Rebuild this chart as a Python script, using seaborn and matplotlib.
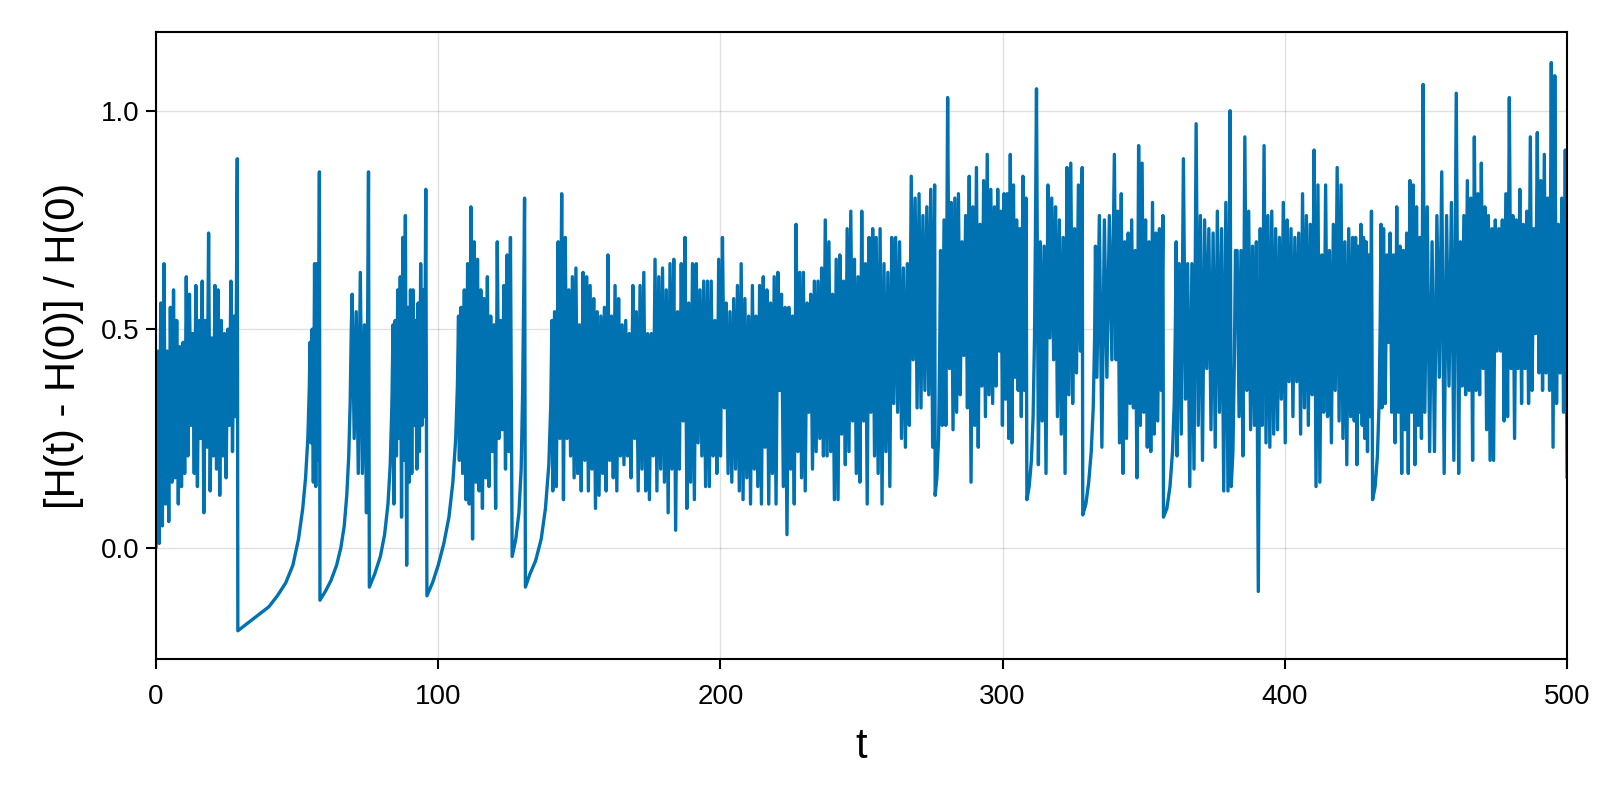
import numpy as np
import pandas as pd
import seaborn as sns
import matplotlib.pyplot as plt

# noisy stretches: alternating crests / troughs,
# each spread evenly over its own (t_start, t_end)
burst_1 = [0.00, 0.45, 0.01, 0.56, 0.05, 0.65, 0.10, 0.45, 0.06, 0.55, 0.15, 0.59, 0.16, 0.52,
           0.10, 0.46, 0.14, 0.47, 0.17, 0.62, 0.21, 0.58, 0.28, 0.49, 0.17, 0.60, 0.14, 0.52,
           0.25, 0.61, 0.08, 0.52, 0.23, 0.72, 0.13, 0.48, 0.21, 0.60, 0.18, 0.59, 0.12, 0.52,
           0.21, 0.49, 0.16, 0.50, 0.28, 0.61, 0.22, 0.53, 0.30, 0.89]
burst_2 = [0.24, 0.50, 0.15, 0.65, 0.14, 0.65, 0.20, 0.86]
burst_3 = [0.58, 0.25, 0.54, 0.17, 0.63, 0.17, 0.51, 0.08, 0.86]
burst_4 = [0.10, 0.52, 0.21, 0.59, 0.25, 0.62, 0.07, 0.71, 0.20, 0.76, -0.04, 0.55, 0.15, 0.59,
           0.17, 0.59, 0.28, 0.52, 0.18, 0.56, 0.22, 0.65, 0.28, 0.59, 0.30, 0.82]
burst_5 = [0.20, 0.55, 0.17, 0.59, 0.11, 0.65, 0.10, 0.78, 0.02, 0.70, 0.15, 0.66, 0.13, 0.59,
           0.09, 0.57, 0.16, 0.62, 0.14, 0.53, 0.22, 0.51, 0.09, 0.70, 0.25, 0.52, 0.27, 0.60,
           0.18, 0.67, 0.22, 0.71]
burst_a = [0.13, 0.54, 0.14, 0.70, 0.25, 0.81, 0.11, 0.71, 0.25, 0.59, 0.21, 0.62, 0.16, 0.64,
           0.17, 0.51, 0.13, 0.63, 0.20, 0.62, 0.13, 0.60, 0.18, 0.57, 0.09, 0.54, 0.12, 0.53,
           0.17, 0.55, 0.13, 0.67, 0.20, 0.53, 0.16, 0.60, 0.13, 0.57, 0.21, 0.51, 0.19, 0.52,
           0.21, 0.49, 0.16, 0.60, 0.25]
burst_b = [0.54, 0.13, 0.60, 0.18, 0.63, 0.13, 0.49, 0.11, 0.49, 0.21, 0.66, 0.13, 0.62, 0.18,
           0.64, 0.15, 0.59, 0.08, 0.65, 0.18, 0.66, 0.04, 0.54, 0.18, 0.65, 0.29, 0.71, 0.09,
           0.56, 0.15, 0.65, 0.11, 0.65, 0.24, 0.59, 0.21, 0.61, 0.14, 0.61, 0.14, 0.61, 0.21,
           0.52, 0.17, 0.66, 0.21, 0.71, 0.32, 0.56, 0.17, 0.54, 0.15, 0.57, 0.18, 0.60, 0.13,
           0.65, 0.11, 0.57, 0.16, 0.53, 0.10, 0.60, 0.18]
burst_c = [0.53, 0.14, 0.60, 0.10, 0.62, 0.23, 0.59, 0.10, 0.56, 0.17, 0.62, 0.10, 0.63, 0.36,
           0.58, 0.14, 0.55, 0.03, 0.55, 0.18, 0.53, 0.10, 0.74, 0.22, 0.63, 0.16, 0.63, 0.13,
           0.56, 0.31, 0.58, 0.18, 0.61, 0.22, 0.61, 0.25, 0.64, 0.21, 0.75, 0.21, 0.70, 0.22,
           0.58, 0.11, 0.66, 0.11, 0.67, 0.26, 0.61, 0.19, 0.73, 0.22, 0.77, 0.29, 0.66, 0.17,
           0.62, 0.15, 0.77, 0.29, 0.65, 0.10, 0.71, 0.31, 0.73, 0.21]
burst_d1 = [0.71, 0.17, 0.73, 0.10, 0.65, 0.22, 0.63, 0.14, 0.71, 0.33, 0.71, 0.31, 0.70, 0.25,
            0.64, 0.23, 0.65, 0.28, 0.85, 0.43, 0.80, 0.32, 0.81, 0.32, 0.76, 0.36, 0.78, 0.35,
            0.82, 0.23, 0.83]
burst_d2 = [0.28, 0.75, 0.28, 1.03, 0.41, 0.79, 0.27, 0.80, 0.31, 0.81, 0.35, 0.70, 0.44, 0.76,
            0.32, 0.85, 0.15, 0.78, 0.28, 0.87, 0.23, 0.74, 0.37, 0.84, 0.30, 0.90, 0.35, 0.82,
            0.33, 0.78]
burst_e1 = [0.37, 0.82, 0.45, 0.77, 0.28, 0.81, 0.34, 0.81, 0.25, 0.90, 0.24, 0.83, 0.39, 0.75,
            0.36, 0.73, 0.30, 0.85, 0.36, 0.80]
burst_e2 = [1.05, 0.19, 0.70, 0.29, 0.69, 0.17, 0.83, 0.48, 0.80, 0.43, 0.78, 0.30, 0.75, 0.26,
            0.71, 0.17, 0.87, 0.35, 0.88, 0.33, 0.73, 0.40, 0.83, 0.45, 0.87]
burst_e3 = [0.39, 0.76, 0.23, 0.75, 0.39, 0.76, 0.43, 0.90]
burst_f1 = [0.43, 0.77, 0.24, 0.81, 0.17, 0.70, 0.25, 0.72, 0.33, 0.75, 0.32, 0.68, 0.16, 0.92,
            0.28, 0.88, 0.31, 0.75, 0.23, 0.70, 0.22, 0.79, 0.26, 0.72, 0.29, 0.73, 0.36, 0.76]
burst_f2 = [0.21, 0.65, 0.26, 0.89, 0.34, 0.65, 0.14, 0.65, 0.18, 0.97, 0.28, 0.76, 0.20, 0.75,
            0.41, 0.73, 0.27, 0.72, 0.23, 0.77, 0.31, 0.73, 0.13, 0.79, 0.13, 1.00]
burst_g = [0.68, 0.30, 0.68, 0.21, 0.94, 0.36, 0.77, 0.27, 0.69, 0.28, 0.70, -0.10, 0.73, 0.28,
           0.92, 0.24, 0.76, 0.23, 0.77, 0.26, 0.73, 0.27, 0.71, 0.34, 0.79, 0.24, 0.75, 0.38,
           0.73, 0.30, 0.71, 0.38, 0.72, 0.26, 0.81, 0.32, 0.76, 0.28, 0.74, 0.35, 0.91, 0.14,
           0.83, 0.15, 0.67, 0.31, 0.83, 0.30, 0.68, 0.24, 0.74, 0.36, 0.87, 0.29, 0.83, 0.25,
           0.70, 0.19, 0.73, 0.30, 0.71]
burst_h1 = [0.29, 0.71, 0.19, 0.69, 0.31, 0.74, 0.28, 0.71, 0.25, 0.70, 0.22, 0.67, 0.30, 0.77]
burst_h2 = [0.32, 0.73, 0.33, 0.67, 0.47, 0.72, 0.31, 0.67, 0.24, 0.78, 0.31, 0.69, 0.17, 0.68,
            0.27, 0.72, 0.17, 0.84, 0.31, 0.83, 0.19, 0.78, 0.28, 0.71, 0.25, 1.06]
burst_h3 = [0.31, 0.78, 0.22, 0.70, 0.22, 0.76, 0.39, 0.86, 0.17, 0.76, 0.37, 0.79, 0.20, 1.04,
            0.17]
burst_i = [0.70, 0.37, 0.76, 0.35, 0.84, 0.36, 0.80, 0.20, 0.94, 0.36, 0.81, 0.35, 0.88, 0.41,
           0.78, 0.27, 0.76, 0.20, 0.73, 0.20, 0.75, 0.45, 0.73, 0.45, 0.75, 0.29, 0.81, 0.30,
           1.03, 0.41, 0.76, 0.25, 0.75, 0.41, 0.82, 0.33, 0.74, 0.41, 0.77, 0.33, 0.94, 0.36,
           0.73, 0.49, 0.95, 0.40, 0.84, 0.36, 0.90, 0.40, 0.80, 0.36, 1.11, 0.23, 1.08, 0.33,
           0.74, 0.40, 0.80, 0.31, 0.91, 0.16]

# smooth recoveries after each drop (t, value)
rise_1_t = [29.0, 31.0, 34.0, 37.0, 40.0, 43.0, 46.0, 48.5, 50.5, 52.0, 53.0, 53.8, 54.3, 54.6]
rise_1 = [-0.19, -0.18, -0.165, -0.15, -0.135, -0.11, -0.08, -0.04, 0.02, 0.09, 0.16, 0.25, 0.36, 0.47]
rise_2_t = [58.1, 60.0, 62.0, 64.0, 65.5, 66.7, 67.6, 68.3, 68.8, 69.2]
rise_2 = [-0.12, -0.10, -0.075, -0.04, 0.0, 0.05, 0.12, 0.21, 0.33, 0.50]
rise_3_t = [75.6, 77.5, 79.5, 81.0, 82.2, 83.0, 83.6, 84.0]
rise_3 = [-0.09, -0.06, -0.02, 0.03, 0.10, 0.19, 0.33, 0.51]
rise_4_t = [96.0, 98.0, 100.0, 102.0, 103.8, 105.2, 106.2, 106.8, 107.2]
rise_4 = [-0.11, -0.08, -0.04, 0.01, 0.07, 0.15, 0.25, 0.37, 0.53]
rise_5_t = [126.2, 127.5, 128.6, 129.4, 129.9, 130.3, 130.6]
rise_5 = [-0.02, 0.02, 0.08, 0.18, 0.35, 0.58, 0.80]
rise_6_t = [130.9, 132.5, 134.5, 136.5, 138.0, 139.2, 139.9, 140.3]
rise_6 = [-0.09, -0.06, -0.03, 0.02, 0.09, 0.19, 0.33, 0.52]
rise_7_t = [276.1, 276.7, 277.3, 277.7, 278.0]
rise_7 = [0.12, 0.16, 0.25, 0.45, 0.68]
rise_8_t = [308.6, 309.4, 310.2, 310.8, 311.3, 311.6]
rise_8 = [0.11, 0.14, 0.20, 0.30, 0.48, 0.70]
rise_9_t = [328.4, 329.5, 330.5, 331.4, 332.1, 332.6, 332.9]
rise_9 = [0.075, 0.10, 0.15, 0.22, 0.32, 0.48, 0.69]
rise_10_t = [357.0, 358.2, 359.3, 360.2, 360.8, 361.2, 361.5]
rise_10 = [0.07, 0.09, 0.14, 0.22, 0.33, 0.50, 0.70]
rise_11_t = [381.0, 381.6, 382.1, 382.5]
rise_11 = [0.14, 0.22, 0.42, 0.68]
rise_12_t = [431.1, 432.0, 432.8, 433.4, 433.8, 434.1]
rise_12 = [0.11, 0.14, 0.21, 0.33, 0.52, 0.74]

pieces = [
    ((0.0, 28.8), burst_1), (rise_1_t, rise_1),
    ((54.9, 57.9), burst_2), (rise_2_t, rise_2),
    ((69.5, 75.3), burst_3), (rise_3_t, rise_3),
    ((84.3, 95.6), burst_4), (rise_4_t, rise_4),
    ((107.5, 125.6), burst_5), (rise_5_t, rise_5), (rise_6_t, rise_6),
    ((140.6, 169.6), burst_a), ((170.2, 212.0), burst_b), ((212.6, 254.6), burst_c),
    ((255.2, 275.9), burst_d1), (rise_7_t, rise_7), ((278.6, 297.1), burst_d2),
    ((297.7, 308.3), burst_e1), (rise_8_t, rise_8), ((312.0, 328.2), burst_e2),
    (rise_9_t, rise_9), ((333.4, 339.6), burst_e3),
    ((340.2, 356.8), burst_f1), (rise_10_t, rise_10), ((361.8, 380.6), burst_f2),
    (rise_11_t, rise_11), ((383.1, 424.0), burst_g),
    ((424.6, 430.7), burst_h1), (rise_12_t, rise_12), ((434.4, 449.0), burst_h2),
    ((449.6, 461.6), burst_h3), ((462.2, 500.0), burst_i),
]

ts, hs = [], []
for tt, vals in pieces:
    if len(tt) == 2 and len(vals) != 2:
        tt = np.linspace(tt[0], tt[1], len(vals))
    ts.extend(tt)
    hs.extend(vals)
df = pd.DataFrame({"t": ts, "dH": hs})

sns.set_theme(style="white")
plt.rcParams['font.family'] = ['Liberation Sans', 'DejaVu Sans']

fig = plt.figure(figsize=(16, 8), dpi=100)
ax = fig.add_axes([0.0975, 0.176, 0.8819, 0.784])
sns.lineplot(data=df, x="t", y="dH", sort=False, estimator=None,
             color="#0072B2", linewidth=2.4, ax=ax)

ax.set_xlim(0, 500)
ax.set_ylim(-0.255, 1.18)
ax.set_xticks([0, 100, 200, 300, 400, 500])
ax.set_yticks([0.0, 0.5, 1.0])
ax.set_yticklabels(["0.0", "0.5", "1.0"])
ax.grid(True, color="black", alpha=0.12, linewidth=1)
ax.set_axisbelow(True)
for s in ax.spines.values():
    s.set_color("black")
    s.set_linewidth(1.5)
ax.tick_params(direction="out", length=7, width=1.5, colors="black",
               labelsize=20, bottom=True, left=True)
ax.tick_params(axis="x", pad=11)
ax.tick_params(axis="y", pad=5)
ax.set_xlabel("t", fontsize=30, labelpad=12, color="black")
ax.set_ylabel("[H(t) - H(0)] / H(0)", fontsize=30, labelpad=12, color="black")

fig.savefig("out.png", dpi=100)
